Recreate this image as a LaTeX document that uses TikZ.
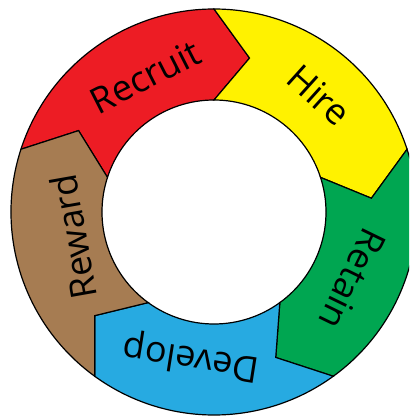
\documentclass[tikz,border=0pt]{standalone}
\usepackage{fontspec}
\setmainfont{Open Sans}
\usetikzlibrary{calc}

\definecolor{recruitred}{RGB}{237,28,36}
\definecolor{hireyellow}{RGB}{255,242,0}
\definecolor{retaingreen}{RGB}{0,166,81}
\definecolor{developblue}{RGB}{39,170,225}
\definecolor{rewardbrown}{RGB}{166,124,82}

\begin{document}
\begin{tikzpicture}[x=1pt,y=1pt,
  seg/.style={draw=black,line width=1.2pt,line join=miter},
  lbl/.style={font=\fontsize{36}{40}\selectfont}]
  \useasboundingbox (-214,-205) rectangle (195,212);
  \clip (-214,-205) rectangle (195,212);

  % ring: outer radius 203, inner 112, arrow tips at 158, 13 deg past each seam
  \filldraw[seg,fill=recruitred] (162:203) arc[start angle=162,end angle=90,radius=203]
    -- (77:158) -- (90:112) arc[start angle=90,end angle=162,radius=112] -- (149:158) -- cycle;
  \filldraw[seg,fill=hireyellow] (90:203) arc[start angle=90,end angle=18,radius=203]
    -- (5:158) -- (18:112) arc[start angle=18,end angle=90,radius=112] -- (77:158) -- cycle;
  \filldraw[seg,fill=retaingreen] (18:203) arc[start angle=18,end angle=-54,radius=203]
    -- (-67:158) -- (-54:112) arc[start angle=-54,end angle=18,radius=112] -- (5:158) -- cycle;
  \filldraw[seg,fill=developblue] (-54:203) arc[start angle=-54,end angle=-126,radius=203]
    -- (-139:158) -- (-126:112) arc[start angle=-126,end angle=-54,radius=112] -- (-67:158) -- cycle;
  \filldraw[seg,fill=rewardbrown] (-126:203) arc[start angle=-126,end angle=-198,radius=203]
    -- (-211:158) -- (-198:112) arc[start angle=-198,end angle=-126,radius=112] -- (-139:158) -- cycle;

  \node[lbl,rotate=27]   (recruit) at (117:152)  {Recruit};
  \node[lbl,rotate=-42]  (hire)    at (48:157)   {Hire};
  \node[lbl,rotate=-116] (retain)  at (-26:154)  {Retain};
  \node[lbl,rotate=171]  (develop) at (-99:147)  {Develop};
  \node[lbl,rotate=100]  (reward)  at (-170:143) {Reward};
\end{tikzpicture}
\end{document}
